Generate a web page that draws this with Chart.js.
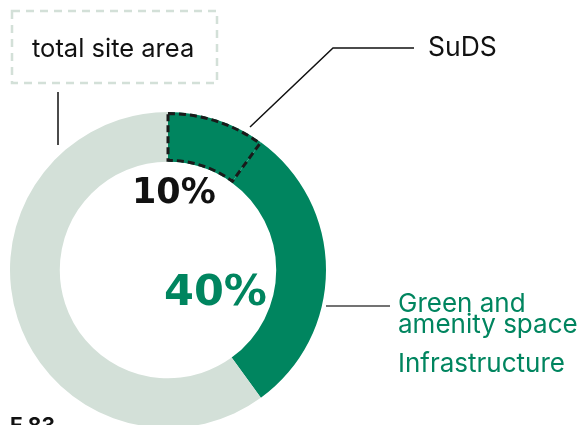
<!DOCTYPE html>
<html>
<head>
<meta charset="utf-8">
<script src="https://cdn.jsdelivr.net/npm/chart.js@4/dist/chart.umd.min.js"></script>
<style>
  html, body { margin: 0; padding: 0; background: #fff; overflow: hidden; }
  #wrap { position: relative; width: 582px; height: 440px; }
</style>
</head>
<body>
<div id="wrap"><canvas id="myChart"></canvas></div>
<script>
// data (% of total site area)
const labels = ["SuDS", "Green and amenity space", "Infrastructure"];
const values = [10, 30, 60];
const colours = ["#00855f", "#00855f", "#d3e0d8"];

const dark = "#00855f";
const ctx = document.getElementById('myChart');

// dashed outline round the SuDS slice + annotation text
const annotations = {
  id: 'annotations',
  afterDatasetsDraw(chart) {
    const c = chart.ctx;
    const arc = chart.getDatasetMeta(0).data[0];
    const p = arc.getProps(['x', 'y', 'startAngle', 'endAngle', 'innerRadius', 'outerRadius'], true);
    c.save();
    c.beginPath();
    c.arc(p.x, p.y, p.outerRadius - 1.5, p.startAngle, p.endAngle);
    c.arc(p.x, p.y, p.innerRadius + 1.5, p.endAngle, p.startAngle, true);
    c.closePath();
    c.setLineDash([7, 4]);
    c.lineWidth = 3;
    c.strokeStyle = "#1a1a1a";
    c.stroke();
    c.restore();
  },
  afterDraw(chart) {
    const c = chart.ctx;
    c.save();
    // total site area box
    c.setLineDash([8, 6]);
    c.lineWidth = 2.5;
    c.strokeStyle = "#d3e0d8";
    c.strokeRect(12, 11, 205, 72);
    c.setLineDash([]);

    // leader lines
    c.lineWidth = 1.5;
    c.strokeStyle = "#111";
    c.beginPath();
    c.moveTo(58, 92); c.lineTo(58, 145);
    c.moveTo(250, 127); c.lineTo(333, 48); c.lineTo(414, 48);
    c.stroke();
    c.strokeStyle = "#444";
    c.beginPath();
    c.moveTo(326, 306); c.lineTo(390, 306);
    c.stroke();

    c.textBaseline = 'alphabetic';
    c.textAlign = 'left';
    c.fillStyle = "#111";
    c.font = "25.5px Inter";
    c.fillText("total site area", 32, 57);
    c.font = "26.5px Inter";
    c.fillText("SuDS", 428, 56);

    c.fillStyle = dark;
    c.font = "26px Inter";
    c.fillText("Green and", 398, 312);
    c.fillText("amenity space", 398, 333);
    c.fillText("Infrastructure", 398, 372);

    c.fillStyle = "#111";
    c.font = "bold 35px 'DejaVu Sans'";
    c.fillText(values[0] + "%", 132, 203);
    c.fillStyle = dark;
    c.font = "bold 43px 'DejaVu Sans'";
    c.fillText((values[0] + values[1]) + "%", 164, 305);

    c.fillStyle = "#111";
    c.font = "bold 21px Inter";
    c.fillText("E 83", 10, 433);
    c.restore();
  }
};

new Chart(ctx, {
  type: 'doughnut',
  data: {
    labels: labels,
    datasets: [{
      data: values,
      backgroundColor: colours,
      borderWidth: 0
    }]
  },
  options: {
    responsive: true,
    maintainAspectRatio: false,
    animation: false,
    cutout: '68.5%',
    layout: { padding: { left: 10, right: 256, top: 112, bottom: 12 } },
    plugins: {
      legend: { display: false },
      tooltip: { enabled: false }
    }
  },
  plugins: [annotations]
});
</script>
</body>
</html>
